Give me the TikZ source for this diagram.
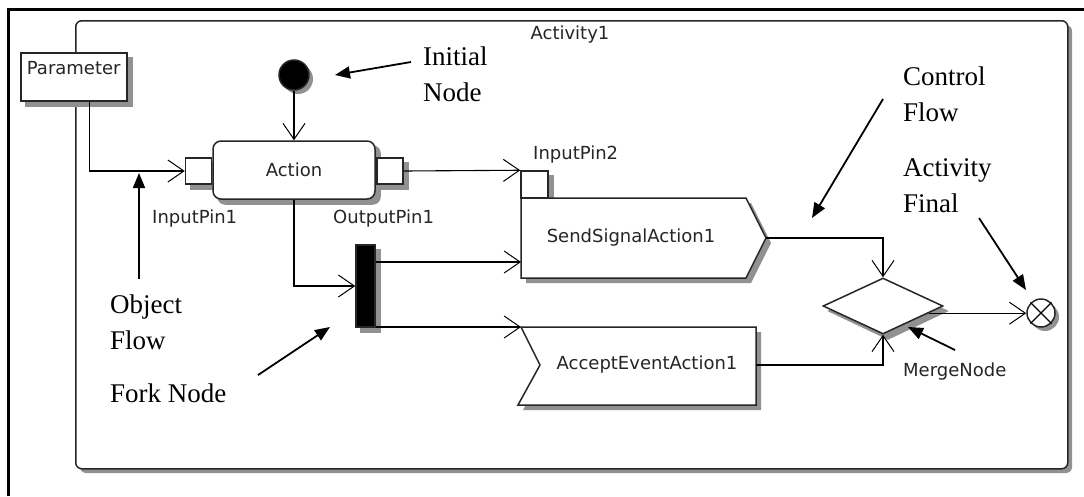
\documentclass[tikz,border=0pt]{standalone}
\usepackage{tikz}
\usepackage{fontspec}
\usetikzlibrary{arrows.meta}
\usetikzlibrary{shapes.geometric}
\usetikzlibrary{positioning}
\setmainfont{Liberation Serif}
\newfontfamily\umlfont{DejaVu Sans}
\newcommand\umltext{\umlfont\fontsize{18}{22}\selectfont}
\newcommand\notetext{\fontsize{27}{36}\selectfont}
\definecolor{shadowgray}{RGB}{145,145,145}
\newcommand\boxshadow[1]{\fill[shadowfill] ([shift={(5,5)}]#1.north west) rectangle ([shift={(5,5)}]#1.south east);}
\pgfdeclarelayer{back}
\pgfdeclarelayer{shadow}
\pgfsetlayers{back,shadow,main}

\begin{document}
\begin{tikzpicture}[x=1pt,y=-1pt,
  shadowfill/.style={fill=shadowgray},
  box/.style={draw=black!85,line width=1.5pt,fill=white},
  pin/.style={box,minimum size=26pt,inner sep=0pt},
  lbl/.style={font=\umltext,inner sep=0pt,text=black!85},
  flow/.style={line width=1.1pt,-{Straight Barb[length=16pt,width=22pt,line width=1pt]}},
  note/.style={font=\notetext,align=left,anchor=north west,inner sep=0pt},
  pointer/.style={line width=1.8pt,-{Triangle[length=15pt,width=12pt]}}]
  \useasboundingbox (0,0) rectangle (1084,496);
  \draw[line width=3pt] (8,496) -- (8,9) -- (1084,9);
  \begin{pgfonlayer}{back}
    \fill[shadowfill,rounded corners=6pt] (80,25) rectangle (1072,473);
    \node[box,rounded corners=6pt,minimum width=992pt,minimum height=448pt,anchor=north west] (activity) at (75,20) {};
  \end{pgfonlayer}
  \node[lbl] (title) at (570,35) {Activity1};
  \node[box,minimum width=106pt,minimum height=48pt,anchor=north west] (param) at (20,52) {};
  \node[lbl,below=9pt of param.north] (paramlbl) {Parameter};
  \node[box,circle,fill=black,minimum size=30pt,inner sep=0pt] (initial) at (294,75) {};
  \node[box,rounded corners=8pt,minimum width=162pt,minimum height=58pt,font=\umltext,text=black!85] (action) at (294,170) {Action};
  \node[pin] (pin1) at (198.5,171) {};
  \node[pin] (pout) at (390,171) {};
  \node[lbl,anchor=west] (pin1lbl) at (152,219) {InputPin1};
  \node[lbl,anchor=west] (poutlbl) at (333,219) {OutputPin1};
  \draw[box] (521,198) -- (746,198) -- (766,238) -- (746,278) -- (521,278) -- cycle;
  \node[lbl] (send) at (631,238) {SendSignalAction1};
  \node[pin,minimum size=27pt] (pin2) at (534.5,184.5) {};
  \node[lbl,anchor=west] (pin2lbl) at (533,155) {InputPin2};
  \draw[box] (521,327) -- (756,327) -- (756,405) -- (518,405) -- (540,365) -- cycle;
  \node[lbl] (accept) at (647,365) {AcceptEventAction1};
  \node[box,fill=black,minimum width=19pt,minimum height=82pt,inner sep=0pt] (fork) at (365.5,286) {};
  \node[box,diamond,minimum width=120pt,minimum height=56pt,inner sep=0pt] (merge) at (883,306) {};
  \node[lbl,anchor=west] (mergelbl) at (903,372) {MergeNode};
  \node[box,circle,minimum size=28pt,inner sep=0pt] (final) at (1041,313) {};
  \draw[line width=1.1pt] (final.45) -- (final.225) (final.135) -- (final.-45);
  \begin{pgfonlayer}{shadow}
    \boxshadow{param}
    \boxshadow{pin1}
    \boxshadow{pout}
    \boxshadow{pin2}
    \boxshadow{fork}
    \fill[shadowfill,rounded corners=8pt] ([shift={(5,5)}]action.north west) rectangle ([shift={(5,5)}]action.south east);
    \fill[shadowfill] ([shift={(4,4)}]initial.center) circle (15);
    \fill[shadowfill] ([shift={(4,4)}]final.center) circle (14);
    \fill[shadowfill] ([shift={(5,5)}]merge.north) -- ([shift={(5,5)}]merge.east) -- ([shift={(5,5)}]merge.south) -- ([shift={(5,5)}]merge.west) -- cycle;
    \fill[shadowfill,shift={(5,5)}] (521,198) -- (746,198) -- (766,238) -- (746,278) -- (521,278) -- cycle;
    \fill[shadowfill,shift={(5,5)}] (521,327) -- (756,327) -- (756,405) -- (518,405) -- (540,365) -- cycle;
  \end{pgfonlayer}
  \coordinate (sendW) at (521,262);
  \coordinate (sendE) at (766,238);
  \coordinate (acceptNW) at (521,327);
  \coordinate (acceptE) at (756,365);
  \draw[flow] (initial) -- (action);
  \draw[flow] ([xshift=16pt]param.south) |- (pin1.west);
  \draw[flow] (pout.east) -- (pin2.north west);
  \draw[flow] (action.south) |- (fork.west);
  \draw[flow] (fork.east |- sendW) -- (sendW);
  \draw[flow] (fork.east |- acceptNW) -- (acceptNW);
  \draw[flow] (sendE) -| (merge.north);
  \draw[flow] (acceptE) -| (merge.south);
  \draw[flow] (merge.-9) -- (merge.-9 -| final.west);
  \node[note] (initnote) at (423,46.5) {Initial\\Node};
  \node[note] (ctrlnote) at (903,66.5) {Control\\Flow};
  \node[note] (finalnote) at (903,158.5) {Activity\\Final};
  \node[note] (objnote) at (110,294.5) {Object\\Flow};
  \node[note] (forknote) at (110,383.5) {Fork Node};
  \coordinate (initA) at (411,62);   \coordinate (initB) at (335,75);
  \coordinate (ctrlA) at (883,99);   \coordinate (ctrlB) at (812,218);
  \coordinate (finalA) at (979,218); \coordinate (finalB) at (1026,290);
  \coordinate (objA) at (139,279);   \coordinate (objB) at (139,173);
  \coordinate (forkA) at (258,375);  \coordinate (forkB) at (330,327);
  \coordinate (mergeA) at (955,350); \coordinate (mergeB) at (908,327);
  \draw[pointer] (initA) -- (initB);
  \draw[pointer] (ctrlA) -- (ctrlB);
  \draw[pointer] (finalA) -- (finalB);
  \draw[pointer] (objA) -- (objB);
  \draw[pointer] (forkA) -- (forkB);
  \draw[pointer] (mergeA) -- (mergeB);
\end{tikzpicture}
\end{document}
